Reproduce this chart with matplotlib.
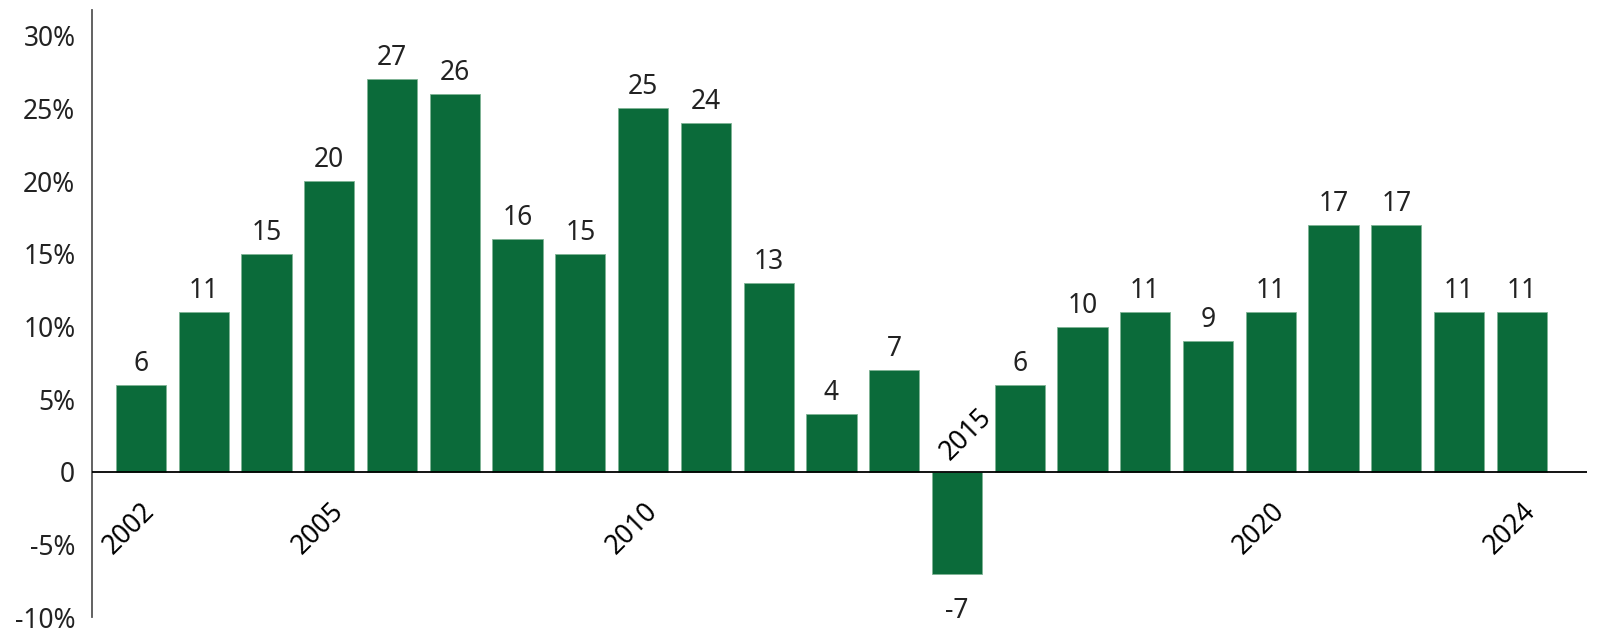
import matplotlib
matplotlib.use("Agg")
import matplotlib.pyplot as plt
import numpy as np

plt.rcParams['font.family'] = ['Noto Sans', 'DejaVu Sans']

# 年度收益（%）
years = list(range(2002, 2025))
values = [6, 11, 15, 20, 27, 26, 16, 15, 25, 24, 13, 4, 7, -7,
          6, 10, 11, 9, 11, 17, 17, 11, 11]
shown_years = [2002, 2005, 2010, 2015, 2020, 2024]
y_ticks = [-10, -5, 0, 5, 10, 15, 20, 25, 30]

bar_color = '#0b6b3a'
text_color = '#222222'
fs = 19

fig = plt.figure(figsize=(16, 6.4), dpi=100)
ax = fig.add_axes([0.0575, 0.0352, 0.9345, 0.949])

x = np.arange(len(years))
ax.bar(x, values, width=0.8, color=bar_color, edgecolor='#7fb394', linewidth=0.6, zorder=2)

# 数值标签
for xi, v in zip(x, values):
    if v >= 0:
        ax.annotate(str(v), (xi, v), xytext=(0, 5), textcoords='offset points',
                    ha='center', va='bottom', fontsize=fs, color=text_color)
    else:
        ax.annotate(str(v), (xi, v), xytext=(0, -17), textcoords='offset points',
                    ha='center', va='top', fontsize=fs, color=text_color)

# 年份标签（斜放）
for yr in shown_years:
    i = years.index(yr)
    if values[i] >= 0:
        ax.text(i - 0.18, -3.9, str(yr), rotation=45, ha='center', va='center',
                fontsize=fs, color='black')
    else:
        ax.text(i + 0.15, 2.55, str(yr), rotation=45, ha='center', va='center',
                fontsize=fs, color='black')

ax.axhline(0, color='black', linewidth=1.3, zorder=3)

ax.set_xlim(-0.78, len(years) - 1 + 1.04)
ax.set_ylim(-10, 31.75)
ax.set_xticks([])
ax.set_yticks(y_ticks)
ax.set_yticklabels(['0' if t == 0 else f'{t}%' for t in y_ticks], fontsize=fs, color=text_color)
ax.tick_params(axis='y', length=0, pad=12)

for s in ['top', 'right', 'bottom']:
    ax.spines[s].set_visible(False)
ax.spines['left'].set_color('#555555')
ax.spines['left'].set_linewidth(1.3)

fig.savefig('out.png', dpi=100)
